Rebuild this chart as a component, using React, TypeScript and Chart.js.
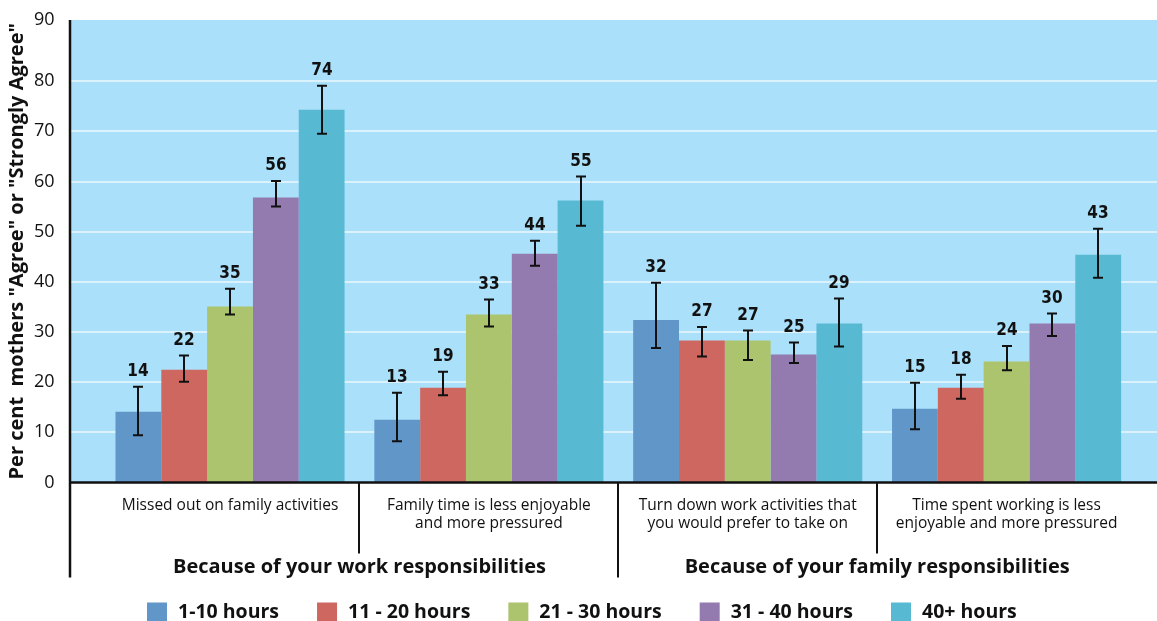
import React, { useEffect, useRef } from 'react';
import { Chart, registerables } from 'chart.js';
Chart.register(...registerables);

// ---- data ----
const categories: string[][] = [
  ['Missed out on family activities'],
  ['Family time is less enjoyable', 'and more pressured'],
  ['Turn down work activities that', 'you would prefer to take on'],
  ['Time spent working is less', 'enjoyable and more pressured'],
];
const groupLabels = ['Because of your work responsibilities', 'Because of your family responsibilities'];
const groupSpans = [2, 2];

const seriesLabels = ['1-10 hours', '11 - 20 hours', '21 - 30 hours', '31 - 40 hours', '40+ hours'];
const seriesColors = ['#6196c9', '#cf6761', '#abc46d', '#937bb0', '#58b9d3'];

const values1to10 = [14.1, 12.5, 32.4, 14.7];
const values11to20 = [22.5, 18.9, 28.3, 18.9];
const values21to30 = [35.1, 33.5, 28.3, 24.1];
const values31to40 = [56.8, 45.6, 25.5, 31.7];
const values40plus = [74.3, 56.2, 31.7, 45.4];

const errLow1to10 = [9.4, 8.2, 26.8, 10.6];
const errLow11to20 = [20.1, 17.4, 25.1, 16.7];
const errLow21to30 = [33.5, 31.1, 24.4, 22.4];
const errLow31to40 = [55.0, 43.2, 23.8, 29.2];
const errLow40plus = [69.5, 51.2, 27.1, 40.8];

const errHigh1to10 = [19.1, 17.9, 39.8, 19.9];
const errHigh11to20 = [25.3, 22.1, 31.0, 21.5];
const errHigh21to30 = [38.6, 36.5, 30.3, 27.2];
const errHigh31to40 = [60.1, 48.2, 27.9, 33.7];
const errHigh40plus = [79.1, 61.0, 36.7, 50.6];

const labels1to10 = ['14', '13', '32', '15'];
const labels11to20 = ['22', '19', '27', '18'];
const labels21to30 = ['35', '33', '27', '24'];
const labels31to40 = ['56', '44', '25', '30'];
const labels40plus = ['74', '55', '29', '43'];

const yMax = 92.2;
const yTickValues = [0, 10, 20, 30, 40, 50, 60, 70, 80, yMax];
const yTickLabels = ['0', '10', '20', '30', '40', '50', '60', '70', '80', '90'];
const yTitle = 'Per cent  mothers "Agree" or "Strongly Agree"';

const seriesValues = [values1to10, values11to20, values21to30, values31to40, values40plus];
const seriesLow = [errLow1to10, errLow11to20, errLow21to30, errLow31to40, errLow40plus];
const seriesHigh = [errHigh1to10, errHigh11to20, errHigh21to30, errHigh31to40, errHigh40plus];
const seriesText = [labels1to10, labels11to20, labels21to30, labels31to40, labels40plus];

// ---- layout / style ----
const W = 1157;
const H = 621;
const AXIS_X = 70;
const FONT = '"Open Sans", "Noto Sans", sans-serif';
const NARROW = '"Liberation Sans Narrow", "DejaVu Sans Condensed", "Liberation Sans", sans-serif';

const decor = {
  id: 'decor',
  beforeDatasetsDraw(chart: any) {
    const { ctx, chartArea, scales } = chart;
    const y = scales.y;
    ctx.save();
    ctx.fillStyle = '#aae0f9';
    ctx.fillRect(AXIS_X, chartArea.top, W - AXIS_X, chartArea.bottom - chartArea.top);
    ctx.strokeStyle = '#dbf2fc';
    ctx.lineWidth = 2;
    yTickValues.forEach((v) => {
      if (v <= 0 || v >= yMax) return;
      const py = Math.round(y.getPixelForValue(v));
      ctx.beginPath();
      ctx.moveTo(AXIS_X, py);
      ctx.lineTo(W, py);
      ctx.stroke();
    });
    ctx.restore();
  },
  afterDatasetsDraw(chart: any) {
    const { ctx, chartArea, scales } = chart;
    const x = scales.x;
    const y = scales.y;
    const bottom = chartArea.bottom;
    ctx.save();

    // error bars + value labels
    ctx.strokeStyle = '#111';
    ctx.fillStyle = '#111';
    ctx.lineWidth = 2;
    ctx.font = `bold 17px ${NARROW}`;
    ctx.textAlign = 'center';
    ctx.textBaseline = 'middle';
    seriesValues.forEach((_, i) => {
      const meta = chart.getDatasetMeta(i);
      meta.data.forEach((bar: any, j: number) => {
        const cx = Math.round(bar.x);
        const yh = y.getPixelForValue(seriesHigh[i][j]);
        const yl = y.getPixelForValue(seriesLow[i][j]);
        ctx.beginPath();
        ctx.moveTo(cx, yh);
        ctx.lineTo(cx, yl);
        ctx.moveTo(cx - 5, yh);
        ctx.lineTo(cx + 5, yh);
        ctx.moveTo(cx - 5, yl);
        ctx.lineTo(cx + 5, yl);
        ctx.stroke();
        ctx.fillText(seriesText[i][j], cx, yh - 15);
      });
    });

    // axis lines
    ctx.strokeStyle = '#111';
    ctx.lineWidth = 2.5;
    ctx.beginPath();
    ctx.moveTo(AXIS_X, bottom);
    ctx.lineTo(W, bottom);
    ctx.stroke();
    ctx.beginPath();
    ctx.moveTo(AXIS_X, chartArea.top);
    ctx.lineTo(AXIS_X, bottom + 95);
    ctx.stroke();

    // category labels
    ctx.fillStyle = '#111';
    ctx.font = `15.5px ${FONT}`;
    ctx.textBaseline = 'middle';
    categories.forEach((lines, j) => {
      const cx = x.getPixelForValue(j);
      lines.forEach((ln, k) => ctx.fillText(ln, cx, bottom + 23.5 + k * 18));
    });

    // separators
    ctx.lineWidth = 2;
    let idx = 0;
    const groupEnds: number[] = [];
    groupSpans.forEach((n) => { idx += n; groupEnds.push(idx - 1); });
    for (let j = 0; j < categories.length - 1; j++) {
      const sx = Math.round((x.getPixelForValue(j) + x.getPixelForValue(j + 1)) / 2);
      const isGroupEnd = groupEnds.includes(j);
      ctx.beginPath();
      ctx.moveTo(sx, bottom);
      ctx.lineTo(sx, bottom + (isGroupEnd ? 95 : 71));
      ctx.stroke();
    }

    // group labels
    ctx.font = `bold 20px ${FONT}`;
    let start = 0;
    groupLabels.forEach((g, gi) => {
      const n = groupSpans[gi];
      const c0 = x.getPixelForValue(start);
      const c1 = x.getPixelForValue(start + n - 1);
      ctx.fillText(g, (c0 + c1) / 2, bottom + 84.5);
      start += n;
    });

    // legend
    ctx.font = `bold 19.5px ${FONT}`;
    ctx.textAlign = 'left';
    let lx = 147;
    seriesLabels.forEach((lab, i) => {
      ctx.fillStyle = seriesColors[i];
      ctx.fillRect(lx, bottom + 120, 20, 20);
      ctx.fillStyle = '#111';
      ctx.fillText(lab, lx + 31, bottom + 130);
      lx += 31 + ctx.measureText(lab).width + 38;
    });

    ctx.restore();
  },
};

export default function App() {
  const ref = useRef<HTMLCanvasElement>(null);
  useEffect(() => {
    const chart = new Chart(ref.current as HTMLCanvasElement, {
      type: 'bar',
      data: {
        labels: categories.map((c) => c.join(' ')),
        datasets: seriesLabels.map((lab, i) => ({
          label: lab,
          data: seriesValues[i],
          backgroundColor: seriesColors[i],
          borderWidth: 0,
          categoryPercentage: 0.885,
          barPercentage: 1,
        })),
      },
      options: {
        responsive: false,
        animation: false,
        devicePixelRatio: 1,
        layout: { padding: { top: 20, right: 21, left: 0, bottom: 0 } },
        plugins: { legend: { display: false }, tooltip: { enabled: false } },
        scales: {
          x: {
            grid: { display: false },
            border: { display: false },
            ticks: { display: false },
            afterFit: (s: any) => { s.height = 138.5; s.paddingLeft = 0; s.paddingRight = 0; },
          },
          y: {
            min: 0,
            max: yMax,
            grid: { display: false },
            border: { display: false },
            afterBuildTicks: (s: any) => { s.ticks = yTickValues.map((v) => ({ value: v })); },
            afterFit: (s: any) => { s.width = 100.6; s.paddingTop = 0; s.paddingBottom = 0; },
            ticks: {
              padding: 38,
              color: '#111',
              font: { family: FONT, size: 18 },
              callback: (_v: any, i: number) => yTickLabels[i],
            },
            title: {
              display: true,
              text: yTitle,
              color: '#111',
              font: { family: FONT, size: 20, weight: 'bold' },
              padding: { top: 5, bottom: 0 },
            },
          },
        },
      },
      plugins: [decor],
    });
    return () => chart.destroy();
  }, []);
  return (
    <div style={{ position: 'absolute', left: 0, top: 0, width: W, height: H, background: '#fff' }}>
      <canvas ref={ref} width={W} height={H} style={{ display: 'block' }} />
    </div>
  );
}
